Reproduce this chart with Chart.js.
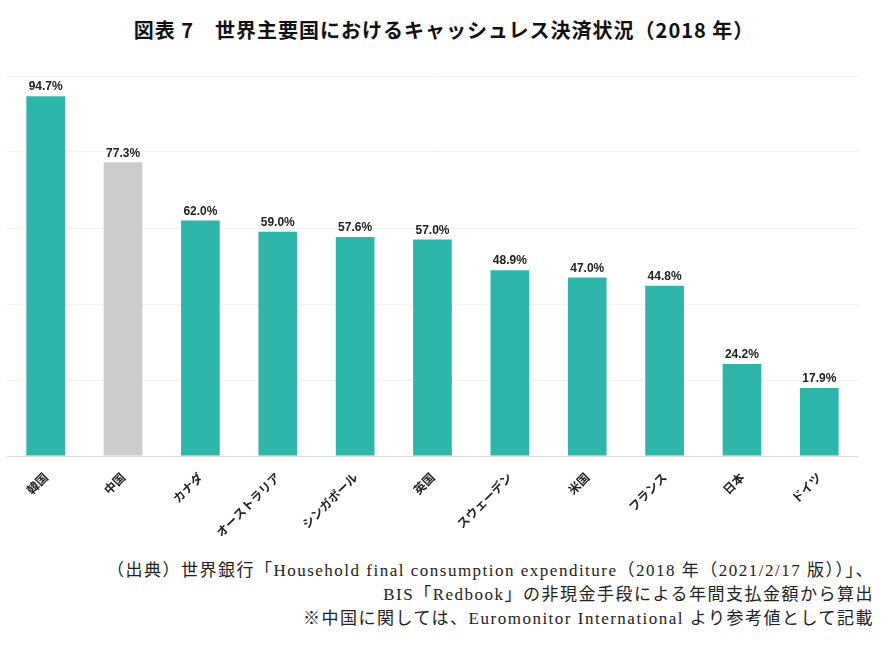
<!DOCTYPE html>
<html>
<head>
<meta charset="utf-8">
<script src="https://cdn.jsdelivr.net/npm/chart.js@4"></script>
<style>
  body { margin: 0; width: 888px; height: 648px; background: #fff; position: relative; overflow: hidden; }
  #title { position: absolute; top: 15px; left: 0; width: 888px; text-align: center;
    font: bold 20px "Noto Sans CJK JP", sans-serif; color: #111; letter-spacing: 1px; }
  #wrap { position: absolute; left: 0; top: 60px; width: 888px; height: 490px; }
  #src { position: absolute; right: 14px; top: 559px; text-align: right; white-space: nowrap;
    font: 17px/24px "Liberation Serif", "Noto Sans CJK JP", serif; color: #222; letter-spacing: 1.5px; }
</style>
</head>
<body>
<div id="title">図表 7　世界主要国におけるキャッシュレス決済状況（2018 年）</div>
<div id="wrap"><canvas id="chart"></canvas></div>
<div id="src">
  （出典）世界銀行「Household final consumption expenditure（2018 年（2021/2/17 版））」、<br>
  BIS「Redbook」の非現金手段による年間支払金額から算出<br>
  ※中国に関しては、Euromonitor International より参考値として記載
</div>
<script>
'use strict';

/* ── Data ───────────────────────────────────────────── */
const countries = ['韓国', '中国', 'カナダ', 'オーストラリア', 'シンガポール', '英国', 'スウェーデン', '米国', 'フランス', '日本', 'ドイツ'];
const ratios = [94.7, 77.3, 62.0, 59.0, 57.6, 57.0, 48.9, 47.0, 44.8, 24.2, 17.9];
const refOnly = ['中国']; // reference value, drawn in gray
const yTicks = [0, 20, 40, 60, 80, 100];

const TEAL = '#2eb6ab', GRAY = '#cccccc';

/* ── Value labels above bars ─────────────────────────── */
const valueLabels = {
  id: 'valueLabels',
  afterDatasetsDraw(chart) {
    const ctx = chart.ctx;
    const meta = chart.getDatasetMeta(0);
    ctx.save();
    ctx.font = 'bold 12px "Liberation Sans", Arial, sans-serif';
    ctx.fillStyle = '#222';
    ctx.textAlign = 'center';
    ctx.textBaseline = 'bottom';
    meta.data.forEach((bar, i) => {
      ctx.fillText(ratios[i].toFixed(1) + '%', bar.x, bar.y - 3);
    });
    ctx.restore();
  }
};

new Chart(document.getElementById('chart'), {
  type: 'bar',
  data: {
    labels: countries,
    datasets: [{
      data: ratios,
      backgroundColor: countries.map(c => refOnly.includes(c) ? GRAY : TEAL),
      borderWidth: 0,
      categoryPercentage: 1,
      barPercentage: 0.5
    }]
  },
  options: {
    responsive: true,
    maintainAspectRatio: false,
    animation: false,
    layout: { padding: { top: 16, left: 7, right: 30, bottom: 0 } },
    plugins: { legend: { display: false }, tooltip: { enabled: false } },
    scales: {
      x: {
        grid: { display: false },
        border: { color: '#dddddd' },
        ticks: {
          minRotation: 45, maxRotation: 45, padding: 6, color: '#222',
          font: { size: 12, weight: 'bold', family: '"Noto Sans CJK JP", sans-serif' }
        },
        afterFit: s => { s.height = 94; }
      },
      y: {
        min: yTicks[0], max: yTicks[yTicks.length - 1],
        afterBuildTicks: s => { s.ticks = yTicks.map(v => ({ value: v })); },
        grid: { color: '#f2f2f2', drawTicks: false },
        border: { display: false },
        ticks: { display: false },
        afterFit: s => { s.width = 0; }
      }
    }
  },
  plugins: [valueLabels]
});
</script>
</body>
</html>
